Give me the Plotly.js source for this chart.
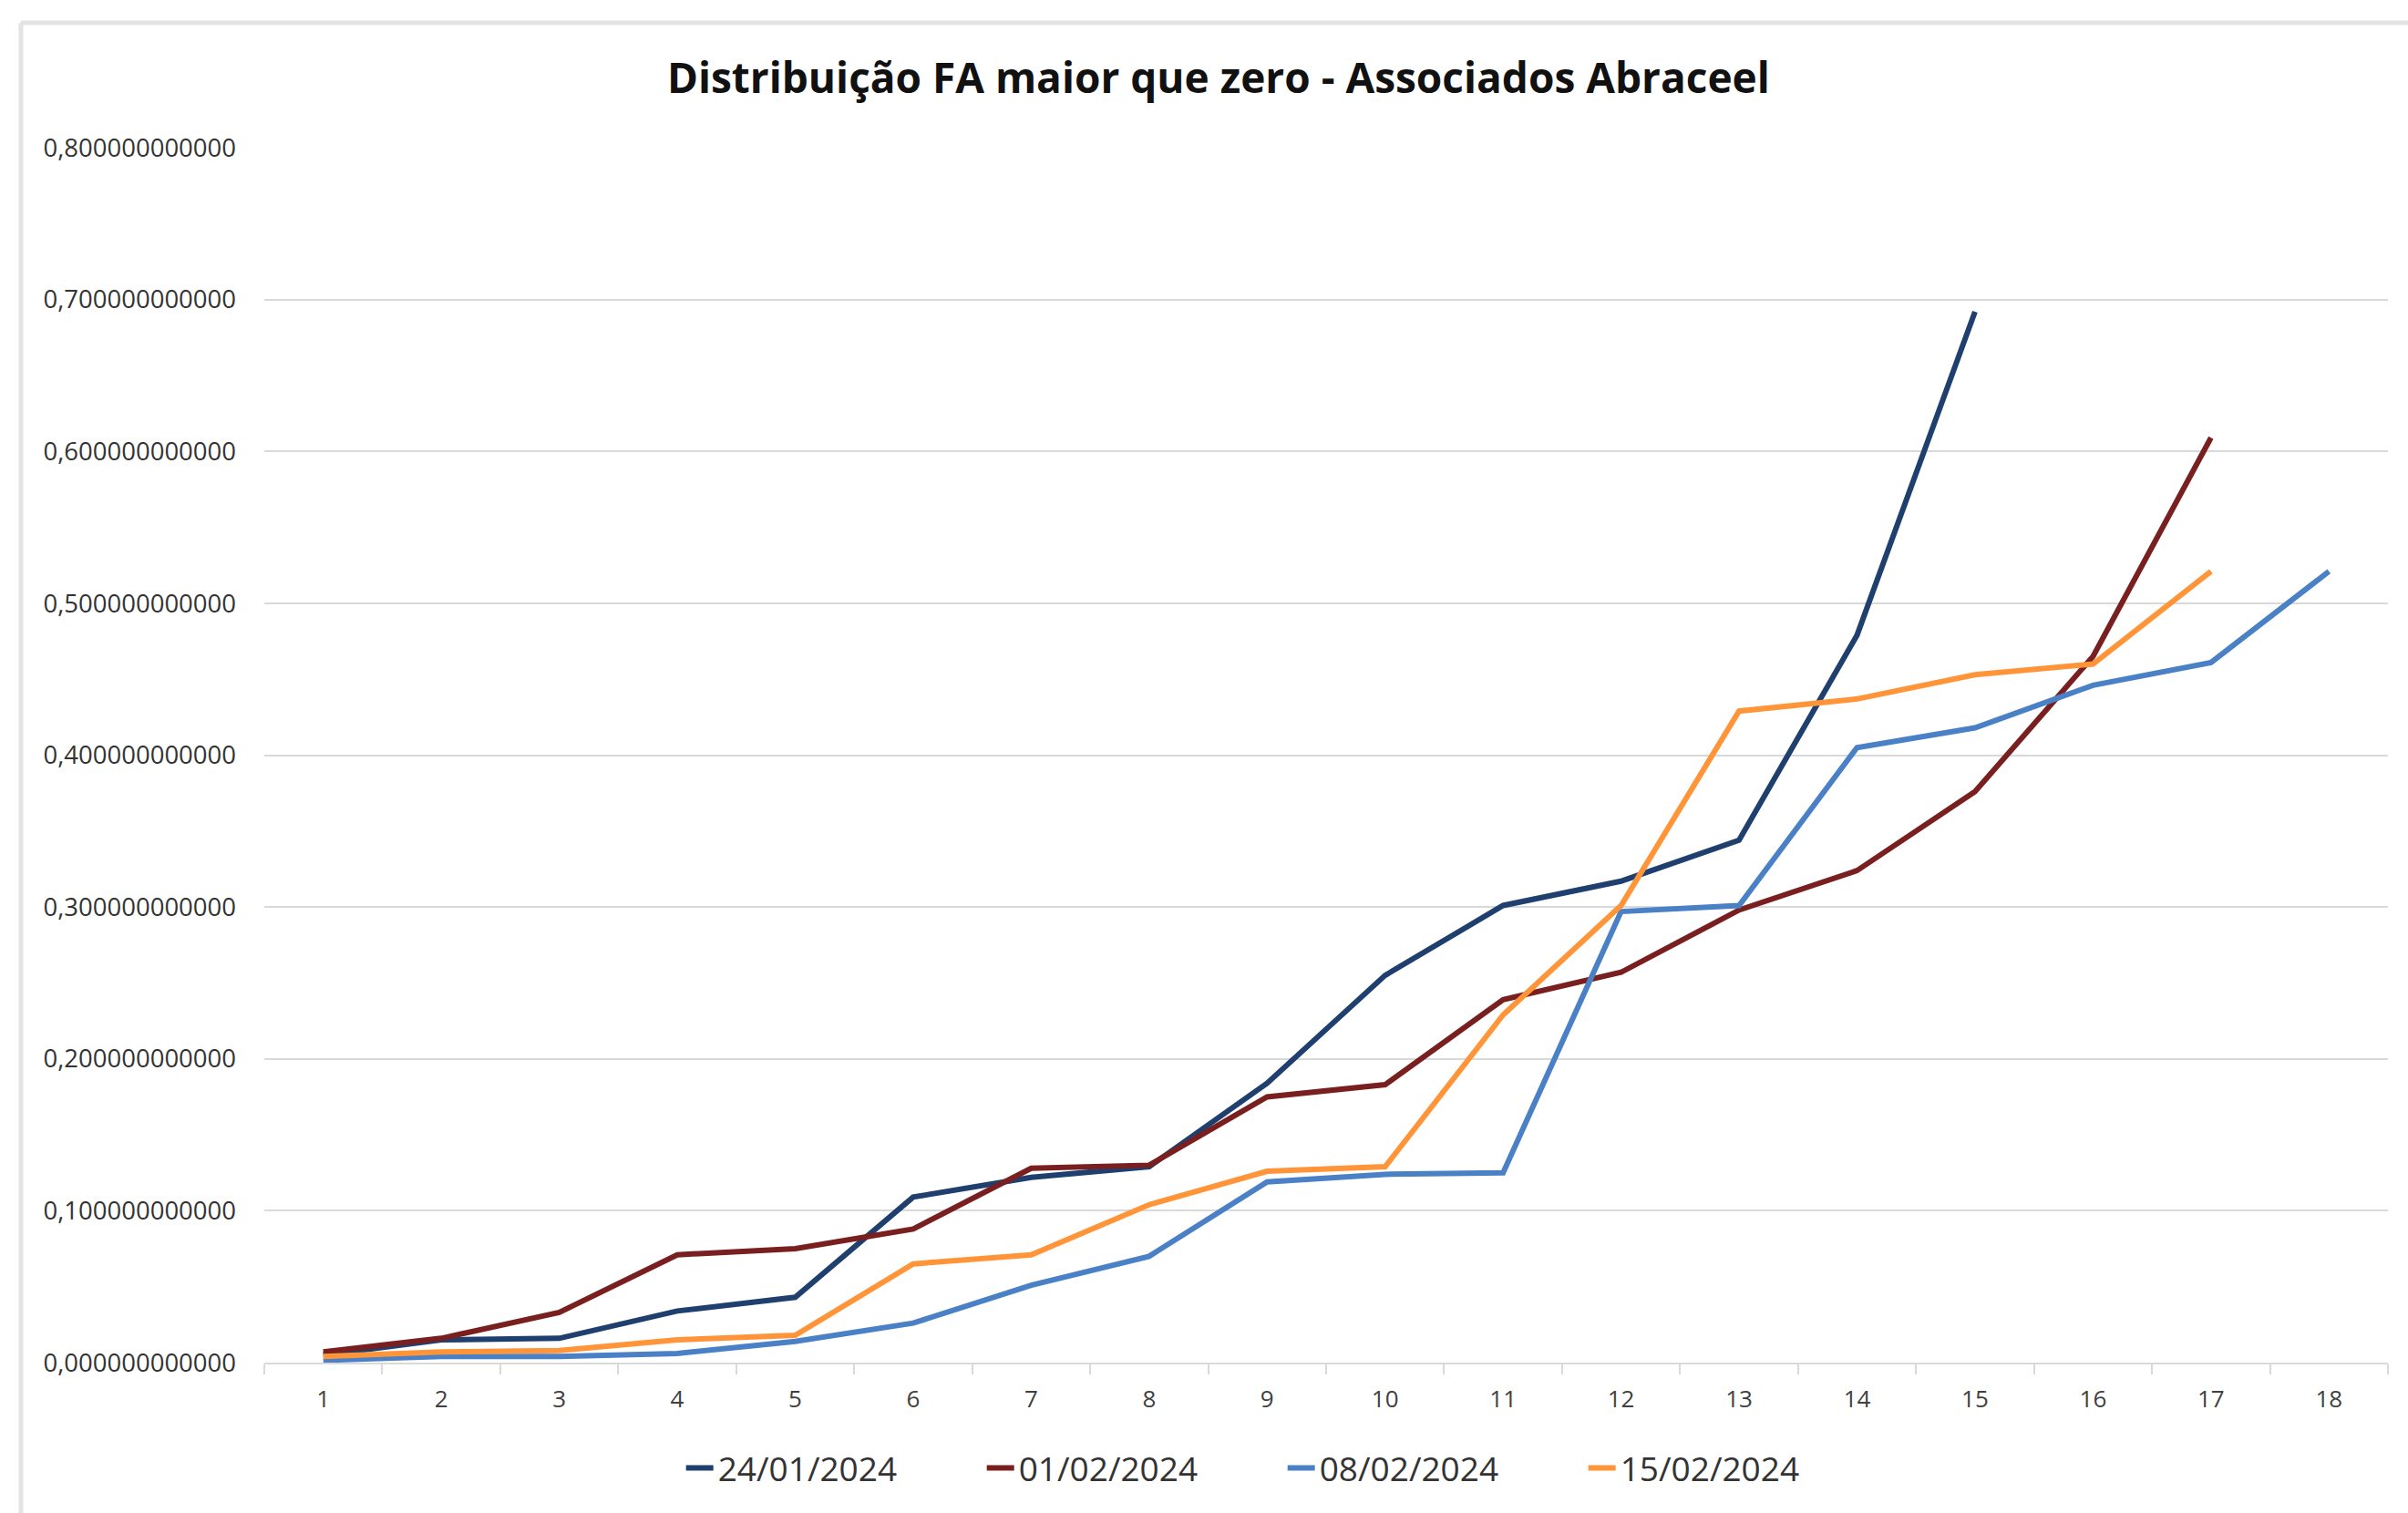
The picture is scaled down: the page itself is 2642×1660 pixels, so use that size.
<!DOCTYPE html>
<html>
<head>
<meta charset="utf-8">
<script src="https://cdn.plot.ly/plotly-3.0.1.min.js"></script>
<style>html,body{margin:0;padding:0;background:#fff;}#chart{width:2642px;height:1660px;}</style>
</head>
<body>
<div id="chart"></div>
<script>
const categories = ['1','2','3','4','5','6','7','8','9','10','11','12','13','14','15','16','17','18'];
const seriesNames = ['24/01/2024','01/02/2024','08/02/2024','15/02/2024'];
const s240124 = [0.005,0.015,0.016,0.034,0.043,0.109,0.122,0.129,0.184,0.255,0.301,0.317,0.344,0.479,0.692];
const s010224 = [0.007,0.016,0.033,0.071,0.075,0.088,0.128,0.130,0.175,0.183,0.239,0.257,0.298,0.324,0.376,0.465,0.609];
const s080224 = [0.0015,0.004,0.004,0.006,0.014,0.026,0.051,0.070,0.119,0.124,0.125,0.297,0.301,0.405,0.418,0.446,0.461,0.521];
const s150224 = [0.004,0.007,0.008,0.015,0.018,0.065,0.071,0.104,0.126,0.129,0.229,0.301,0.429,0.437,0.453,0.460,0.521];
const yTicks = [0,0.1,0.2,0.3,0.4,0.5,0.6,0.7,0.8];
const colors = ['#1F3F6E','#7A1F1F','#4A80C6','#FF9538'];

const allSeries = [s240124, s010224, s080224, s150224];
const traces = allSeries.map((vals, i) => ({
  type: 'scatter',
  mode: 'lines',
  x: categories.slice(0, vals.length),
  y: vals,
  name: seriesNames[i],
  line: {color: colors[i], width: 6},
  hoverinfo: 'skip'
}));

const layout = {
  width: 2642,
  height: 1660,
  paper_bgcolor: '#ffffff',
  plot_bgcolor: '#ffffff',
  separators: ',.',
  font: {family: 'Open Sans, Liberation Sans, sans-serif', color: '#595959'},
  margin: {l: 290, r: 22, t: 162, b: 165, pad: 0},
  title: {
    text: '<b>Distribuição FA maior que zero - Associados Abraceel</b>',
    font: {family: 'Open Sans, sans-serif', size: 46, color: '#111111'},
    x: 0.506, xref: 'container', xanchor: 'center',
    y: 1 - 86/1660, yref: 'container', yanchor: 'middle'
  },
  xaxis: {
    type: 'category',
    categoryorder: 'array',
    categoryarray: categories,
    range: [-0.5, 17.5],
    tickson: 'boundaries',
    ticks: 'outside',
    ticklen: 11,
    tickwidth: 2,
    tickcolor: '#d9d9d9',
    showline: true,
    linecolor: '#d9d9d9',
    linewidth: 2,
    showgrid: false,
    zeroline: false,
    tickfont: {size: 26, color: '#404040'},
    ticklabelstandoff: 16,
    fixedrange: true
  },
  yaxis: {
    range: [0, 0.8],
    tickvals: yTicks,
    tickformat: '.12f',
    showgrid: true,
    gridcolor: '#d9d9d9',
    gridwidth: 2,
    zeroline: false,
    showline: false,
    ticks: '',
    tickfont: {size: 27.5, color: '#333333'},
    ticklabelstandoff: 30,
    fixedrange: true
  },
  showlegend: true,
  legend: {
    orientation: 'h',
    xref: 'container', yref: 'container',
    x: 0.283, xanchor: 'left',
    y: 1 - 1611/1660, yanchor: 'middle',
    entrywidth: 285,
    entrywidthmode: 'pixels',
    font: {size: 37, color: '#333333'},
    bgcolor: 'rgba(0,0,0,0)'
  },
  shapes: [
    {type: 'line', xref: 'paper', yref: 'paper', x0: (23-290)/2330, x1: (23-290)/2330, y0: (1495-25)/1333, y1: -0.2, line: {color: '#e3e3e3', width: 5}},
    {type: 'line', xref: 'paper', yref: 'paper', x0: (23-290)/2330, x1: 1.02, y0: (1495-25)/1333, y1: (1495-25)/1333, line: {color: '#e3e3e3', width: 5}}
  ]
};

Plotly.newPlot('chart', traces, layout, {displayModeBar: false, staticPlot: true});
</script>
</body>
</html>
